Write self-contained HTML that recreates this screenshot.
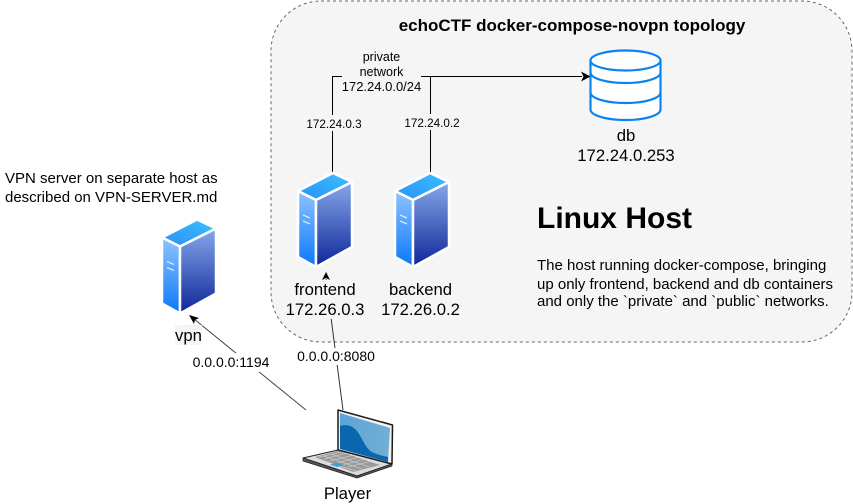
<!DOCTYPE html>
<html><head><meta charset="utf-8"><style>
html,body{margin:0;padding:0;background:#fff}
svg{display:block}
text{font-family:"Liberation Sans",sans-serif;fill:#000}
</style></head><body>
<svg xmlns="http://www.w3.org/2000/svg" width="853" height="504" viewBox="0 0 853 504">
<defs>
<linearGradient id="gt" x1="0" y1="1" x2="1" y2="0"><stop offset="0" stop-color="#2a90f5"/><stop offset="1" stop-color="#3cc0ff"/></linearGradient>
<linearGradient id="gl" x1="0" y1="0" x2="0" y2="1"><stop offset="0" stop-color="#8fc4ff"/><stop offset="1" stop-color="#0a78fa"/></linearGradient>
<linearGradient id="gr" x1="0" y1="0" x2="0" y2="1"><stop offset="0" stop-color="#86a8ea"/><stop offset="1" stop-color="#0e2698"/></linearGradient>
<linearGradient id="gs" x1="0" y1="0" x2="1" y2="0"><stop offset="0" stop-color="#5aa5d8"/><stop offset="1" stop-color="#74aed4"/></linearGradient>
<g id="srv">
<polygon points="35,1 54,10 18,28 0,19" fill="url(#gt)" stroke="#fff" stroke-width="2.500" stroke-linejoin="round"/>
<polygon points="0,19 18,28 18,95 0,85" fill="url(#gl)" stroke="#fff" stroke-width="2.500" stroke-linejoin="round"/>
<polygon points="18,28 54,10 54,75 18,95" fill="url(#gr)" stroke="#fff" stroke-width="2.500" stroke-linejoin="round"/>
<path d="M5,43 L12,46 M5,49 L12,52" stroke="#eaf3ff" stroke-width="1.200" fill="none"/>
</g>
</defs>
<rect x="271" y="1" width="581" height="341" rx="50" ry="50" fill="#f5f5f5" stroke="#666" stroke-width="1" stroke-dasharray="3 3"/>
<text x="572" y="31" font-size="17" font-weight="bold" text-anchor="middle">echoCTF docker-compose-novpn topology</text>

<path d="M332.5,172 V76.5 H582" fill="none" stroke="#000" stroke-width="1"/>
<path d="M430.5,172 V76.5" fill="none" stroke="#000" stroke-width="1"/>
<rect x="342" y="49" width="79" height="46" fill="#f5f5f5"/>
<text x="381.500" y="61" font-size="12.500" text-anchor="middle">private</text>
<text x="381.500" y="76" font-size="12.500" text-anchor="middle">network</text>
<text x="381.500" y="91" font-size="13" text-anchor="middle">172.24.0.0/24</text>
<rect x="306" y="115" width="56" height="16" fill="#f5f5f5"/>
<text x="334" y="128" font-size="11.700" text-anchor="middle">172.24.0.3</text>
<rect x="404" y="114" width="56" height="16" fill="#f5f5f5"/>
<text x="432" y="127" font-size="11.700" text-anchor="middle">172.24.0.2</text>

<g fill="#fff" stroke="#0a84f0" stroke-width="2.200">
<path d="M590.500,60.500 V109.500 A35,10.500 0 0 0 660.500,109.500 V60.500"/>
<ellipse cx="625.500" cy="60.500" rx="35" ry="10"/>
<path d="M590.500,72.500 A35,10.500 0 0 0 660.500,72.500" fill="none"/>
<path d="M590.500,92.500 A35,10.500 0 0 0 660.500,92.500" fill="none"/>
</g>
<polygon points="590.500,76.500 581,71.500 583.500,76.500 581,81.500" fill="#000"/>
<text x="626" y="141" font-size="16.700" text-anchor="middle">db</text>
<text x="626" y="161" font-size="16.700" text-anchor="middle">172.24.0.253</text>

<use href="#srv" x="298" y="172"/>
<use href="#srv" x="395" y="172"/>
<use href="#srv" x="162" y="218.500"/>

<text x="537" y="228" font-size="30" font-weight="bold">Linux Host</text>
<text x="537" y="270" font-size="15">The host running docker-compose, bringing</text>
<text x="537" y="289" font-size="15">up only frontend, backend and db containers</text>
<text x="537" y="306" font-size="15">and only the `private` and `public` networks.</text>

<text x="5" y="183" font-size="15">VPN server on separate host as</text>
<text x="5" y="202" font-size="15">described on VPN-SERVER.md</text>

<line x1="343" y1="410" x2="326" y2="279" stroke="#333" stroke-width="1"/>
<polygon points="326,272 322,280 326,278 330,280" fill="#000"/>
<line x1="306" y1="410" x2="194" y2="319" stroke="#444" stroke-width="1"/>
<polygon points="189,315 199,318 195,320 194,324" fill="#000"/>

<rect x="284" y="280" width="82" height="39" fill="#f5f5f5"/>
<text x="325" y="295" font-size="16.700" text-anchor="middle">frontend</text>
<text x="325" y="315" font-size="16.700" text-anchor="middle">172.26.0.3</text>
<text x="420.500" y="295" font-size="16.700" text-anchor="middle">backend</text>
<text x="420.500" y="315" font-size="16.700" text-anchor="middle">172.26.0.2</text>
<rect x="175" y="325" width="27" height="20" fill="#f5f5f5"/>
<text x="188.500" y="341" font-size="16.700" text-anchor="middle">vpn</text>

<rect x="296" y="348" width="80" height="17" fill="#fff"/>
<rect x="192" y="353" width="78" height="19" fill="#fff"/>
<text x="336" y="361" font-size="14" text-anchor="middle">0.0.0.0:8080</text>
<text x="231" y="367" font-size="14" text-anchor="middle">0.0.0.0:1194</text>

<polygon points="303,458 338,450 392,464 357,476" fill="#dcdcdc" stroke="#222" stroke-width="1" stroke-linejoin="round"/>
<polygon points="303,458 357,476 392,464 392,466 357,478 303,461" fill="#555" stroke="#222" stroke-width="0.700" stroke-linejoin="round"/>
<polygon points="315,457 338,451 380,465 353,472" fill="#9a9a9a"/>
<path d="M319,457 L342,452 M324,459 L347,453 M330,461 L354,455 M336,463 L360,457 M342,465 L366,459 M348,467 L372,461 M318,459 L356,471 M324,456 L362,469 M331,454 L369,467" stroke="#d8d8d8" stroke-width="0.600"/>
<polygon points="330,464.500 337,462.500 344,465 337,467" fill="#3f9fd6"/>
<polygon points="338,410 392.500,425 392,464 338,450" fill="#f0f0f0" stroke="#1a1a1a" stroke-width="1.500" stroke-linejoin="round"/>
<polygon points="340,413 390,428 388,462 340,449" fill="url(#gs)"/>
<path d="M340,426 C346,424 352,425 357,431 C363,439 365,448 372,452 C378,455 383,456 388,457 L388,462 L340,449 Z" fill="#0a66ae"/>

<text x="347.500" y="499" font-size="16.700" text-anchor="middle">Player</text>
</svg>
</body></html>
